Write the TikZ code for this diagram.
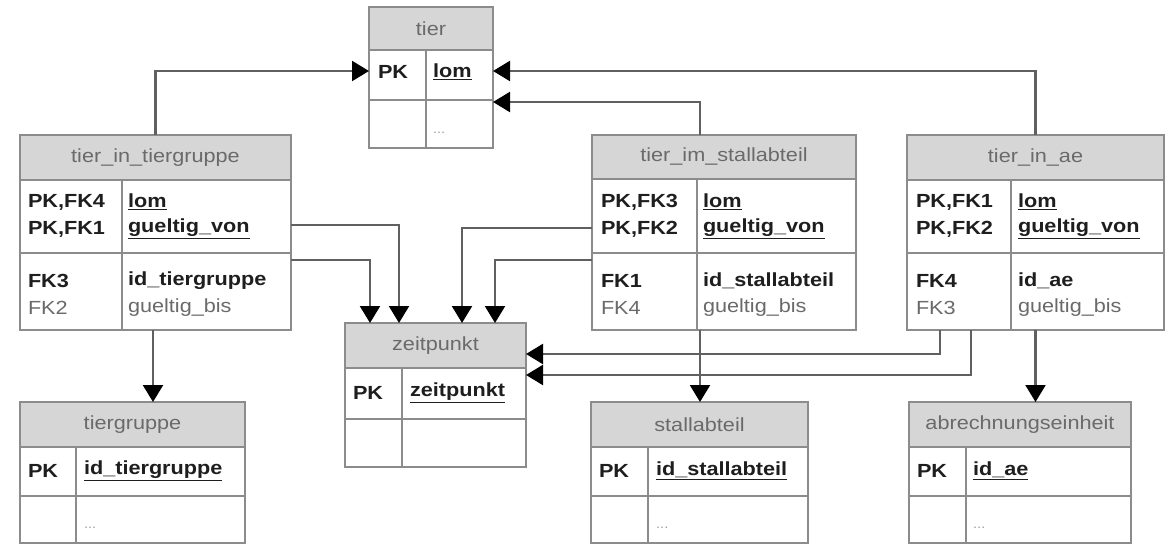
\documentclass[tikz,border=0pt]{standalone}
\usepackage{fontspec}
\setmainfont[FakeStretch=1.14]{Liberation Sans}
\usetikzlibrary{arrows.meta}
\definecolor{frame}{HTML}{8C8C8C}
\definecolor{head}{HTML}{D6D6D6}
\definecolor{wire}{HTML}{606060}
\definecolor{ink}{HTML}{1E1E1E}
\definecolor{soft}{HTML}{6A6A6A}
\definecolor{faint}{HTML}{A0A0A0}
\newcommand{\erfont}{\fontsize{19}{22}\selectfont}
\tikzset{
  every node/.style={font=\erfont, inner sep=0pt, outer sep=0pt},
  tblbox/.style={draw=frame, line width=2.4pt, fill=white, anchor=north west},
  hdrbox/.style={draw=frame, line width=2.4pt, fill=head, anchor=north west, text=soft},
  rowbox/.style={draw=frame, line width=2.4pt, anchor=north west},
  coldiv/.style={draw=frame, line width=2.4pt},
  lbl/.style={anchor=west},
  keyt/.style={lbl, text=ink, font=\erfont\bfseries},
  plaint/.style={lbl, text=soft},
  dots/.style={lbl, text=faint, font=\fontsize{13}{15}\selectfont},
  conn/.style={draw=wire, line width=2.2pt,
    -{Triangle[width=20pt,length=17pt,color=black]}}
}
\newcommand{\pk}[1]{\underline{#1}}
\begin{document}
\begin{tikzpicture}[x=1pt,y=-1pt]
\useasboundingbox (0,0) rectangle (1174,545);

% ---- tier
\node[tblbox, minimum width=124pt, minimum height=141pt] (tier) at (369,7) {};
\node[hdrbox, minimum width=124pt, minimum height=43pt] (tier-h) at (369,7) {tier};
\node[rowbox, minimum width=124pt, minimum height=50pt] (tier-k) at (369,50) {};
\draw[coldiv] (426,50) -- (426,148);
\node[keyt] (tier-k1) at (378,72) {PK};
\node[keyt] (tier-k2) at (433,72) {\pk{lom}};
\node[dots] (tier-d) at (433,133) {...};

% ---- tier_in_tiergruppe
\node[tblbox, minimum width=271pt, minimum height=195pt] (tig) at (20,135) {};
\node[hdrbox, minimum width=271pt, minimum height=45pt] (tig-h) at (20,135) {tier\_in\_tiergruppe};
\node[rowbox, minimum width=271pt, minimum height=73pt] (tig-k) at (20,180) {};
\draw[coldiv] (122,180) -- (122,330);
\node[keyt] (tig-l1) at (28,202) {PK,FK4};
\node[keyt] (tig-l2) at (28,229) {PK,FK1};
\node[keyt] (tig-l3) at (28,281) {FK3};
\node[plaint] (tig-l4) at (28,308) {FK2};
\node[keyt] (tig-r1) at (128,202) {\pk{lom}};
\node[keyt] (tig-r2) at (128,229) {\pk{gueltig\_von}};
\node[keyt] (tig-r3) at (128,281) {id\_tiergruppe};
\node[plaint] (tig-r4) at (128,308) {gueltig\_bis};

% ---- tier_im_stallabteil
\node[tblbox, minimum width=264pt, minimum height=195pt] (tis) at (592,135) {};
\node[hdrbox, minimum width=264pt, minimum height=44pt] (tis-h) at (592,135) {tier\_im\_stallabteil};
\node[rowbox, minimum width=264pt, minimum height=74pt] (tis-k) at (592,179) {};
\draw[coldiv] (697,179) -- (697,330);
\node[keyt] (tis-l1) at (601,202) {PK,FK3};
\node[keyt] (tis-l2) at (601,229) {PK,FK2};
\node[keyt] (tis-l3) at (601,281) {FK1};
\node[plaint] (tis-l4) at (601,308) {FK4};
\node[keyt] (tis-r1) at (703,202) {\pk{lom}};
\node[keyt] (tis-r2) at (703,229) {\pk{gueltig\_von}};
\node[keyt] (tis-r3) at (703,281) {id\_stallabteil};
\node[plaint] (tis-r4) at (703,308) {gueltig\_bis};

% ---- tier_in_ae
\node[tblbox, minimum width=257pt, minimum height=195pt] (tia) at (907,135) {};
\node[hdrbox, minimum width=257pt, minimum height=45pt] (tia-h) at (907,135) {tier\_in\_ae};
\node[rowbox, minimum width=257pt, minimum height=73pt] (tia-k) at (907,180) {};
\draw[coldiv] (1011,180) -- (1011,330);
\node[keyt] (tia-l1) at (916,202) {PK,FK1};
\node[keyt] (tia-l2) at (916,229) {PK,FK2};
\node[keyt] (tia-l3) at (916,281) {FK4};
\node[plaint] (tia-l4) at (916,308) {FK3};
\node[keyt] (tia-r1) at (1018,202) {\pk{lom}};
\node[keyt] (tia-r2) at (1018,229) {\pk{gueltig\_von}};
\node[keyt] (tia-r3) at (1018,281) {id\_ae};
\node[plaint] (tia-r4) at (1018,308) {gueltig\_bis};

% ---- zeitpunkt
\node[tblbox, minimum width=181pt, minimum height=144pt] (zp) at (345,323) {};
\node[hdrbox, minimum width=181pt, minimum height=45pt] (zp-h) at (345,323) {zeitpunkt};
\node[rowbox, minimum width=181pt, minimum height=51pt] (zp-k) at (345,368) {};
\draw[coldiv] (402,368) -- (402,467);
\node[keyt] (zp-l1) at (353,393) {PK};
\node[keyt] (zp-r1) at (410,393) {\pk{zeitpunkt}};

% ---- tiergruppe
\node[tblbox, minimum width=225pt, minimum height=141pt] (tgr) at (20,402) {};
\node[hdrbox, minimum width=225pt, minimum height=45pt] (tgr-h) at (20,402) {tiergruppe};
\node[rowbox, minimum width=225pt, minimum height=49pt] (tgr-k) at (20,447) {};
\draw[coldiv] (76,447) -- (76,543);
\node[keyt] (tgr-l1) at (28,471) {PK};
\node[keyt] (tgr-r1) at (84,471) {\pk{id\_tiergruppe}};
\node[dots] (tgr-d) at (84,528) {...};

% ---- stallabteil
\node[tblbox, minimum width=217pt, minimum height=141pt] (stb) at (591,402) {};
\node[hdrbox, minimum width=217pt, minimum height=45pt] (stb-h) at (591,402) {stallabteil};
\node[rowbox, minimum width=217pt, minimum height=49pt] (stb-k) at (591,447) {};
\draw[coldiv] (648,447) -- (648,543);
\node[keyt] (stb-l1) at (599,471) {PK};
\node[keyt] (stb-r1) at (656,471) {\pk{id\_stallabteil}};
\node[dots] (stb-d) at (656,528) {...};

% ---- abrechnungseinheit
\node[tblbox, minimum width=222pt, minimum height=141pt] (abr) at (909,402) {};
\node[hdrbox, minimum width=222pt, minimum height=45pt] (abr-h) at (909,402) {abrechnungseinheit};
\node[rowbox, minimum width=222pt, minimum height=49pt] (abr-k) at (909,447) {};
\draw[coldiv] (966,447) -- (966,543);
\node[keyt] (abr-l1) at (917,471) {PK};
\node[keyt] (abr-r1) at (973,471) {\pk{id\_ae}};
\node[dots] (abr-d) at (973,528) {...};

% ---- relationships
\draw[conn] (tig.north) |- ([yshift=4pt]tier-k.west);
\draw[conn] (tia.north) |- ([yshift=4pt]tier-k.east);
\draw[conn] (tis.north -| 700,0) |- ([yshift=-2pt]tier-k.south east);
\draw[conn] (tig.east |- 0,225) -| (zp.north -| 399,0);
\draw[conn] (tig.east |- 0,260) -| (zp.north -| 370,0);
\draw[conn] (tis.west |- 0,228) -| (zp.north -| 462,0);
\draw[conn] (tis.west |- 0,260) -| (zp.north -| 495,0);
\draw[conn] (tia.south -| 940,0) |- (zp.east |- 0,354);
\draw[conn] (tia.south -| 971,0) |- (zp.east |- 0,375);
\draw[conn] (tig.south -| 153,0) -- (tgr.north -| 153,0);
\draw[conn] (tis.south -| 700,0) -- (stb.north -| 700,0);
\draw[conn] (tia.south) -- (abr.north -| tia.south);
\end{tikzpicture}
\end{document}
